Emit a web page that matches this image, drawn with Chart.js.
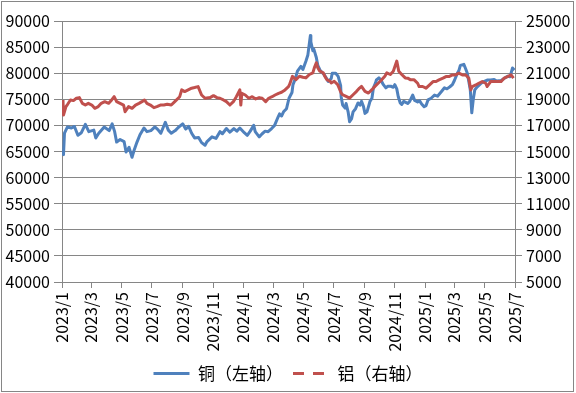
<!DOCTYPE html>
<html>
<head>
<meta charset="utf-8">
<script src="https://cdn.jsdelivr.net/npm/chart.js@4"></script>
<style>
  html, body { margin: 0; padding: 0; background: #fff; }
</style>
</head>
<body>
<canvas id="chart" width="576" height="393"></canvas>
<script>
// tick labels on the date axis
const tickLabels = ["2023/1", "2023/3", "2023/5", "2023/7", "2023/9", "2023/11",
  "2024/1", "2024/3", "2024/5", "2024/7", "2024/9", "2024/11",
  "2025/1", "2025/3", "2025/5", "2025/7"];

// copper, left axis (yuan/t)
const cuDates = [
  "2023-01-03", "2023-01-04", "2023-01-06", "2023-01-12", "2023-01-20", "2023-01-26",
  "2023-02-02", "2023-02-09", "2023-02-17", "2023-02-24",
  "2023-03-06", "2023-03-10", "2023-03-16", "2023-03-27",
  "2023-04-06", "2023-04-12", "2023-04-17", "2023-04-21", "2023-04-28",
  "2023-05-06", "2023-05-10", "2023-05-16", "2023-05-22", "2023-05-26",
  "2023-06-01", "2023-06-07", "2023-06-15", "2023-06-21", "2023-06-29",
  "2023-07-07", "2023-07-13", "2023-07-19", "2023-07-28",
  "2023-08-03", "2023-08-09", "2023-08-17", "2023-08-23",
  "2023-09-01", "2023-09-07", "2023-09-13", "2023-09-19", "2023-09-25",
  "2023-10-03", "2023-10-09", "2023-10-16", "2023-10-20", "2023-10-30",
  "2023-11-07", "2023-11-15", "2023-11-20", "2023-11-28",
  "2023-12-05", "2023-12-13", "2023-12-19", "2023-12-25",
  "2024-01-03", "2024-01-09", "2024-01-15", "2024-01-22", "2024-01-25",
  "2024-02-02", "2024-02-08", "2024-02-14", "2024-02-20", "2024-02-27",
  "2024-03-04", "2024-03-11", "2024-03-14", "2024-03-18", "2024-03-22", "2024-03-28",
  "2024-04-02", "2024-04-08", "2024-04-10", "2024-04-15", "2024-04-19", "2024-04-26", "2024-04-30",
  "2024-05-06", "2024-05-10", "2024-05-15", "2024-05-16", "2024-05-20", "2024-05-22", "2024-05-27", "2024-05-30",
  "2024-06-04", "2024-06-11", "2024-06-14", "2024-06-20", "2024-06-26", "2024-06-28",
  "2024-07-05", "2024-07-10", "2024-07-15", "2024-07-16", "2024-07-19", "2024-07-24", "2024-07-26", "2024-07-30",
  "2024-08-02", "2024-08-06", "2024-08-09", "2024-08-14", "2024-08-19", "2024-08-23", "2024-08-26", "2024-08-30",
  "2024-09-02", "2024-09-06", "2024-09-10", "2024-09-12", "2024-09-16", "2024-09-19", "2024-09-23", "2024-09-25", "2024-09-30",
  "2024-10-04", "2024-10-09", "2024-10-14", "2024-10-18", "2024-10-24", "2024-10-29",
  "2024-11-01", "2024-11-05", "2024-11-08", "2024-11-12", "2024-11-15", "2024-11-19", "2024-11-23", "2024-11-27",
  "2024-12-01", "2024-12-07", "2024-12-11", "2024-12-17", "2024-12-21", "2024-12-25", "2024-12-30",
  "2025-01-03", "2025-01-07", "2025-01-13", "2025-01-20", "2025-01-26",
  "2025-02-03", "2025-02-09", "2025-02-14", "2025-02-20", "2025-02-25",
  "2025-03-01", "2025-03-07", "2025-03-10", "2025-03-13", "2025-03-20", "2025-03-23", "2025-03-27", "2025-03-30",
  "2025-04-02", "2025-04-05", "2025-04-08", "2025-04-11", "2025-04-16", "2025-04-23", "2025-04-29",
  "2025-05-07", "2025-05-13", "2025-05-20", "2025-05-25",
  "2025-06-03", "2025-06-09", "2025-06-16", "2025-06-21", "2025-06-26", "2025-06-30"
];
const cuValues = [
  65200, 64400, 68500, 69700, 69500, 69800,
  68100, 68600, 70200, 68800,
  69100, 67600, 68500, 69700,
  69000, 70300, 68800, 66800, 67300,
  66900, 64900, 65800, 63900, 65200,
  66800, 68200, 69500, 68800, 69000,
  69700, 69200, 68500, 70600,
  69100, 68500, 69000, 69600,
  70300, 69300, 69800, 68500, 67600,
  67700, 66700, 66200, 66900, 67800,
  67500, 68800, 68400, 69400,
  68700, 69400, 68900, 69500,
  68600, 68100, 68900, 70000, 68800,
  67800, 68400, 68900, 68800, 69400,
  70000, 71600, 72200, 71800, 72600, 73200,
  75200, 76300, 77800, 79000, 80400, 81300, 80700,
  82300, 83500, 87200, 86000, 84300, 84600, 83000, 81500,
  80500, 79800, 79400, 78400, 79000, 80000,
  80000, 79400, 77600, 75500, 73900, 73300, 74200, 72600,
  70700, 71300, 72600, 73200, 74300, 73900, 74600, 73600,
  72300, 72600, 73900, 74600, 75200, 77200, 78100, 78700, 79100,
  78700, 77800, 77200, 77500, 77500, 77300,
  77800, 77000, 75500, 74300, 74000, 74600, 74400, 74200,
  74600, 75800, 74800, 74500, 74700, 74100, 73600,
  73800, 74900, 75200, 75800, 75600,
  76500, 77200, 77000, 77400, 77800,
  78600, 80000, 80500, 81500, 81700, 81000, 80000, 78400,
  76800, 72400, 75000, 76800, 77400, 78000, 78400,
  78700, 78700, 78800, 78500,
  78600, 79000, 79400, 79300, 81000, 80600
];

// aluminium, right axis (yuan/t)
const alDates = [
  "2023-01-03", "2023-01-04", "2023-01-09", "2023-01-12", "2023-01-18", "2023-01-24", "2023-01-30",
  "2023-02-05", "2023-02-11", "2023-02-17", "2023-02-23",
  "2023-03-02", "2023-03-08", "2023-03-15", "2023-03-21", "2023-03-28",
  "2023-04-05", "2023-04-11", "2023-04-16", "2023-04-21", "2023-04-28",
  "2023-05-05", "2023-05-08", "2023-05-15", "2023-05-22", "2023-05-29",
  "2023-06-05", "2023-06-11", "2023-06-16", "2023-06-21", "2023-06-28",
  "2023-07-05", "2023-07-11", "2023-07-18", "2023-07-25",
  "2023-08-01", "2023-08-09", "2023-08-16", "2023-08-26", "2023-08-30",
  "2023-09-05", "2023-09-12", "2023-09-19", "2023-09-25",
  "2023-10-02", "2023-10-09", "2023-10-16", "2023-10-26",
  "2023-11-02", "2023-11-09", "2023-11-15", "2023-11-22", "2023-11-28",
  "2023-12-05", "2023-12-12", "2023-12-18", "2023-12-25", "2023-12-27", "2023-12-29",
  "2024-01-05", "2024-01-12", "2024-01-19", "2024-01-26",
  "2024-02-02", "2024-02-08", "2024-02-15", "2024-02-21", "2024-02-28",
  "2024-03-05", "2024-03-12", "2024-03-18", "2024-03-25",
  "2024-04-01", "2024-04-03", "2024-04-09", "2024-04-16", "2024-04-23", "2024-04-30",
  "2024-05-06", "2024-05-13", "2024-05-20", "2024-05-23", "2024-05-27", "2024-05-30",
  "2024-06-03", "2024-06-10", "2024-06-13", "2024-06-17", "2024-06-24", "2024-06-26",
  "2024-07-02", "2024-07-09", "2024-07-12", "2024-07-16", "2024-07-19", "2024-07-26",
  "2024-08-02", "2024-08-09", "2024-08-16", "2024-08-22", "2024-08-26",
  "2024-09-02", "2024-09-09", "2024-09-16", "2024-09-22", "2024-09-29",
  "2024-10-06", "2024-10-12", "2024-10-16", "2024-10-23", "2024-10-29",
  "2024-11-05", "2024-11-09", "2024-11-15", "2024-11-22", "2024-11-27",
  "2024-12-03", "2024-12-10", "2024-12-17", "2024-12-20", "2024-12-27",
  "2025-01-03", "2025-01-10", "2025-01-17", "2025-01-23", "2025-01-29",
  "2025-02-06", "2025-02-12", "2025-02-18", "2025-02-25",
  "2025-03-03", "2025-03-10", "2025-03-17", "2025-03-24", "2025-03-30",
  "2025-04-03", "2025-04-06", "2025-04-13", "2025-04-19", "2025-04-26",
  "2025-05-03", "2025-05-06", "2025-05-13", "2025-05-20", "2025-05-26",
  "2025-06-03", "2025-06-09", "2025-06-16", "2025-06-23", "2025-06-28"
];
const alValues = [
  18950, 17800, 18440, 18600, 18950, 18900, 19080,
  19130, 18690, 18560, 18690,
  18560, 18310, 18440, 18690, 18820,
  18690, 18950, 19200, 18820, 18690,
  18560, 18050, 18440, 18310, 18560,
  18690, 18820, 18950, 18690, 18560,
  18360, 18440, 18560, 18560,
  18620, 18560, 18820, 19200, 19720,
  19590, 19720, 19850, 19900,
  19970, 19330, 19080, 19130,
  19280, 19130, 19080, 18950, 18820,
  18560, 18820, 19200, 19720, 18560, 19460,
  19330, 19080, 19200, 19030,
  19130, 19080, 18820, 19080, 19200,
  19330, 19460, 19540, 19720,
  19970, 20120, 20760, 20510, 20770, 20690,
  20640, 20900, 21030, 21410, 21800, 21410,
  21150, 21030, 20770, 20510, 20380, 20250,
  20380, 20120, 19860, 19480, 19350, 19220,
  19090, 19350, 19610, 19860, 19990,
  19610, 19480, 19740, 19990, 20250,
  20510, 20770, 21030, 20900, 21150,
  21930, 21150, 20900, 20640, 20620,
  20490, 20490, 20230, 19980, 19980,
  19850, 20100, 20360, 20360, 20490,
  20620, 20740, 20740, 20870,
  20870, 21000, 20870, 20870, 20620,
  19720, 19980, 20100, 20230, 20360,
  20230, 19980, 20360, 20360, 20360,
  20360, 20620, 20740, 20870, 20620
];

// days since 2023-01-01, for "2023-01-03" or "2023/1"
function dayOf(s) {
  const p = s.split(/[-\/]/).map(Number);
  return (Date.UTC(p[0], p[1] - 1, p[2] || 1) - Date.UTC(2023, 0, 1)) / 86400000;
}

const toPoints = (dates, values) => dates.map((d, i) => ({ x: dayOf(d), y: values[i] }));

const tickFont = { family: "'Noto Sans CJK SC', 'Noto Sans', sans-serif", size: 16 };
const gridColor = "#868686";
const plainNumber = (v) => String(v);

const framePlugin = {
  id: "frame",
  beforeDraw(chart) {
    const ctx = chart.ctx;
    ctx.save();
    ctx.fillStyle = "#fff";
    ctx.fillRect(0, 0, chart.width, chart.height);
    ctx.restore();
  },
  afterDraw(chart) {
    const ctx = chart.ctx;
    ctx.save();
    ctx.strokeStyle = gridColor;
    ctx.lineWidth = 1;
    ctx.strokeRect(1.5, 1.5, 572, 390);
    ctx.restore();
  }
};

new Chart(document.getElementById("chart"), {
  type: "line",
  data: {
    datasets: [
      {
        label: "铜（左轴）",
        data: toPoints(cuDates, cuValues),
        yAxisID: "y",
        borderColor: "#4f81bd",
        backgroundColor: "#4f81bd",
        borderWidth: 3,
        pointRadius: 0,
        tension: 0,
        borderJoinStyle: "round",
        order: 2
      },
      {
        label: "铝（右轴）",
        data: toPoints(alDates, alValues),
        yAxisID: "y1",
        borderColor: "#c0504d",
        backgroundColor: "#c0504d",
        borderWidth: 3,
        pointRadius: 0,
        tension: 0,
        borderJoinStyle: "round",
        order: 1
      }
    ]
  },
  options: {
    responsive: false,
    devicePixelRatio: 1,
    animation: false,
    layout: { padding: { top: 21, bottom: 1, left: 0, right: 0 } },
    plugins: {
      tooltip: { enabled: false },
      legend: {
        position: "bottom",
        labels: {
          usePointStyle: true,
          pointStyle: "line",
          pointStyleWidth: 36,
          padding: 10,
          color: "#000",
          font: { family: "'Noto Sans CJK SC', sans-serif", size: 17 },
          sort: (a, b) => a.datasetIndex - b.datasetIndex,
          generateLabels: (chart) => {
            const items = Chart.defaults.plugins.legend.labels.generateLabels(chart);
            items.forEach((it) => {
              it.pointStyle = "line";
              it.lineWidth = 3;
              if (it.datasetIndex === 1) it.lineDash = [11, 9];
            });
            return items;
          }
        }
      }
    },
    scales: {
      x: {
        type: "linear",
        min: 0,
        max: dayOf("2025/7"),
        afterBuildTicks: (scale) => {
          scale.ticks = tickLabels.map((t) => ({ value: dayOf(t) }));
        },
        afterFit: (scale) => { scale.height = 73; },
        ticks: {
          autoSkip: false,
          minRotation: 90,
          maxRotation: 90,
          padding: 4,
          color: "#000",
          font: tickFont,
          callback: (v, i) => tickLabels[i]
        },
        grid: { drawOnChartArea: false, color: gridColor, tickLength: 6 },
        border: { color: gridColor }
      },
      y: {
        position: "left",
        min: 40000,
        max: 90000,
        afterFit: (scale) => { scale.width = 62; },
        ticks: { stepSize: 5000, padding: 4, color: "#000", font: tickFont, callback: plainNumber },
        grid: { color: gridColor, tickLength: 8 },
        border: { color: gridColor }
      },
      y1: {
        position: "right",
        min: 5000,
        max: 25000,
        afterFit: (scale) => { scale.width = 61; },
        ticks: { stepSize: 2000, padding: 4, color: "#000", font: tickFont, callback: plainNumber },
        grid: { drawOnChartArea: false, color: gridColor, tickLength: 7 },
        border: { color: gridColor }
      }
    }
  },
  plugins: [framePlugin]
});
</script>
</body>
</html>
